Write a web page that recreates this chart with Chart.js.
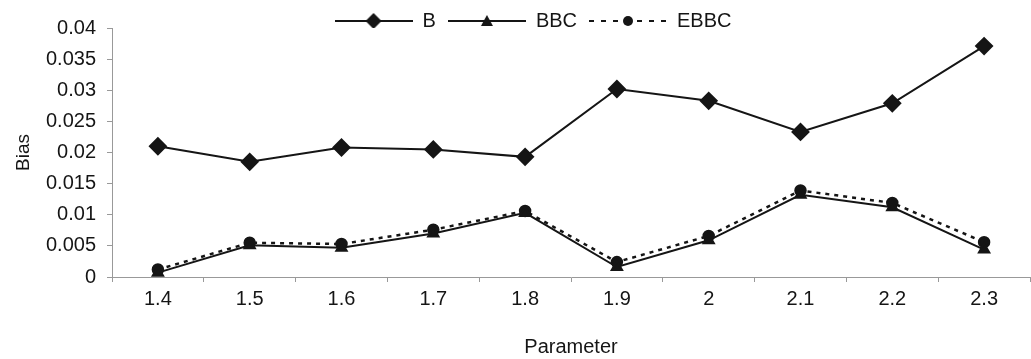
<!DOCTYPE html>
<html>
<head>
<meta charset="utf-8">
<script src="https://cdn.jsdelivr.net/npm/chart.js@4/dist/chart.umd.min.js"></script>
<style>
  html, body { margin: 0; padding: 0; background: #fff; overflow: hidden; }
  #wrap { width: 1040px; height: 359px; position: relative; }
</style>
</head>
<body>
<div id="wrap"><canvas id="c"></canvas></div>
<script>
// Parameter values along the x axis
const parameters = ['1.4', '1.5', '1.6', '1.7', '1.8', '1.9', '2', '2.1', '2.2', '2.3'];

// Bias of each estimator
const biasB    = [0.0210, 0.0185, 0.0208, 0.0205, 0.0193, 0.0302, 0.0283, 0.0233, 0.0279, 0.0371];
const biasBBC  = [0.0007, 0.0051, 0.0047, 0.0070, 0.0103, 0.0016, 0.0059, 0.0132, 0.0112, 0.0044];
const biasEBBC = [0.0012, 0.0055, 0.0053, 0.0076, 0.0106, 0.0024, 0.0066, 0.0139, 0.0119, 0.0056];

const seriesNames = ['B', 'BBC', 'EBBC'];

const INK = '#151515';
const AXIS = '#999';

// Legend swatch: a short line with the series marker in the middle
function swatch(style, dashed) {
  const cv = document.createElement('canvas');
  cv.width = 78; cv.height = 18;
  const g = cv.getContext('2d');
  g.strokeStyle = INK; g.fillStyle = INK; g.lineWidth = 2;
  if (dashed) g.setLineDash([5, 7]);
  g.beginPath(); g.moveTo(0, 9); g.lineTo(78, 9); g.stroke();
  g.setLineDash([]);
  const cx = 39, cy = 9;
  g.beginPath();
  if (style === 'diamond') {
    g.moveTo(cx, cy - 8); g.lineTo(cx + 8, cy); g.lineTo(cx, cy + 8); g.lineTo(cx - 8, cy); g.closePath();
  } else if (style === 'triangle') {
    g.moveTo(cx, cy - 6); g.lineTo(cx + 6, cy + 5); g.lineTo(cx - 6, cy + 5); g.closePath();
  } else {
    g.arc(cx, cy, 5, 0, Math.PI * 2);
  }
  g.fill();
  return cv;
}
const legendSwatches = [swatch('diamond', false), swatch('triangle', false), swatch('circle', true)];

// Nudge the legend so it sits centred over the plot area, close to the top edge
const legendNudge = {
  id: 'legendNudge',
  afterLayout(chart) {
    const l = chart.legend;
    if (!l) return;
    l.left += 16; l.right += 16;
    l.top -= 5;
  }
};

new Chart(document.getElementById('c'), {
  type: 'line',
  plugins: [legendNudge],
  data: {
    labels: parameters,
    datasets: [
      {
        label: seriesNames[0], data: biasB,
        borderColor: INK, backgroundColor: INK, borderWidth: 2,
        pointStyle: 'rectRot', pointRadius: 8, pointHoverRadius: 8,
        tension: 0
      },
      {
        label: seriesNames[1], data: biasBBC,
        borderColor: INK, backgroundColor: INK, borderWidth: 2,
        pointStyle: 'triangle', pointRadius: 6, pointHoverRadius: 6,
        tension: 0
      },
      {
        label: seriesNames[2], data: biasEBBC,
        borderColor: INK, backgroundColor: INK, borderWidth: 2.5,
        borderDash: [4, 5],
        pointStyle: 'circle', pointRadius: 5, pointHoverRadius: 5,
        tension: 0
      }
    ]
  },
  options: {
    responsive: true,
    maintainAspectRatio: false,
    animation: false,
    layout: { padding: { top: 4, left: 0, right: 6, bottom: 0 } },
    plugins: {
      tooltip: { enabled: false },
      legend: {
        position: 'top',
        align: 'center',
        maxHeight: 24,
        labels: {
          usePointStyle: true,
          pointStyleWidth: 78,
          boxHeight: 18,
          padding: 12,
          color: INK,
          font: { family: 'Liberation Sans, Arial, sans-serif', size: 20 },
          generateLabels(chart) {
            return chart.data.datasets.map((ds, i) => ({
              text: ds.label,
              pointStyle: legendSwatches[i],
              fillStyle: INK, strokeStyle: INK, lineWidth: 0,
              fontColor: INK,
              hidden: false, datasetIndex: i
            }));
          }
        }
      }
    },
    scales: {
      x: {
        offset: true,
        afterFit: s => { s.height = 82; },
        grid: {
          display: true, drawOnChartArea: false, drawTicks: true,
          tickLength: 5, color: AXIS, offset: true
        },
        border: { display: true, color: AXIS, width: 1 },
        ticks: {
          color: INK, padding: 5,
          font: { family: 'Liberation Sans Narrow, Liberation Sans, Arial, sans-serif', size: 20 }
        },
        title: {
          display: true, text: 'Parameter', color: INK,
          padding: { top: 8, bottom: 0 },
          font: { family: 'Liberation Sans Narrow, Liberation Sans, Arial, sans-serif', size: 20 }
        }
      },
      y: {
        min: 0, max: 0.04,
        afterFit: s => { s.width = 112; },
        grid: {
          display: true, drawOnChartArea: false, drawTicks: true,
          tickLength: 5, color: AXIS
        },
        border: { display: true, color: AXIS, width: 1 },
        ticks: {
          stepSize: 0.005, color: INK, padding: 11,
          font: { family: 'Liberation Sans, Arial, sans-serif', size: 20 },
          callback: v => String(parseFloat(Number(v).toFixed(3)))
        },
        title: {
          display: true, text: 'Bias', color: INK,
          padding: { top: 12, bottom: 4 },
          font: { family: 'Liberation Sans, Arial, sans-serif', size: 19 }
        }
      }
    }
  }
});
</script>
</body>
</html>
